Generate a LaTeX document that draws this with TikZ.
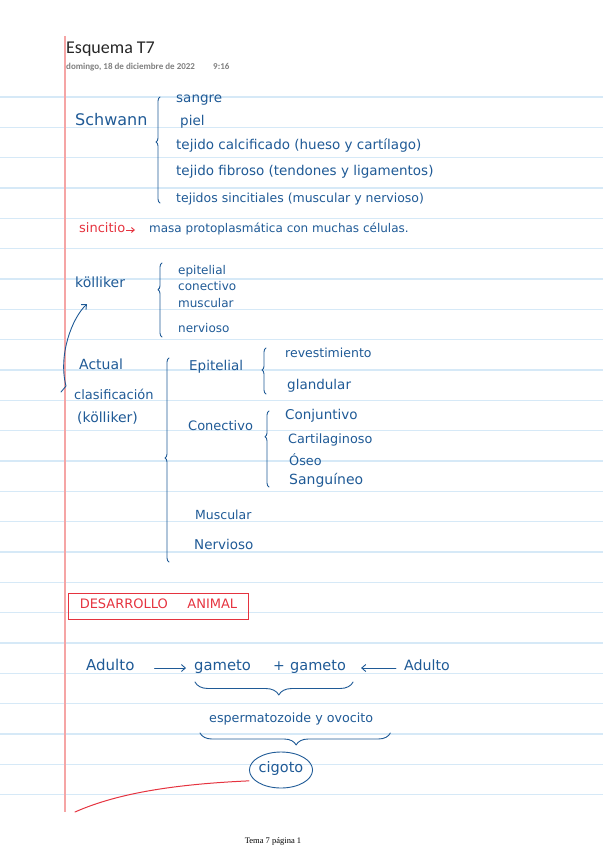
\documentclass[tikz,border=0pt]{standalone}
\usepackage{fontspec}
\setmainfont{Carlito}
\newfontfamily\handfont{DejaVu Sans}
\newfontfamily\footfont{Liberation Serif}
\usepackage{tikz}
\usetikzlibrary{arrows.meta,shapes.geometric,decorations.pathreplacing}
\definecolor{ink}{HTML}{1F5A96}
\definecolor{inkred}{HTML}{E5333F}
\definecolor{rulecol}{HTML}{D6E9F7}
\definecolor{margincol}{HTML}{F5A5A5}
\definecolor{titlegray}{HTML}{262626}
\definecolor{dategray}{HTML}{7F7F7F}

\begin{document}
\begin{tikzpicture}[x=1pt,y=-1pt,
  hand/.style={font=\handfont\fontsize{#1}{#1}\selectfont,text=ink,inner sep=0pt,anchor=west,text height=1.5ex,text depth=.25ex},
  hand/.default=13,
  inkline/.style={draw=ink,line width=0.9pt,line cap=round,line join=round},
  handbrace/.style={inkline,decorate,decoration={brace,amplitude=4pt,aspect=#1}},
  handbrace/.default=0.5,
  inkarrow/.style={inkline,-{Straight Barb[length=4pt,width=7pt]}}]
\useasboundingbox (0,0) rectangle (603,848);
\foreach \k in {0,...,23} \draw[rulecol,line width=1.2pt] (0,97+30.33*\k) -- (603,97+30.33*\k);
\draw[margincol,line width=1.5pt] (65,36) -- (65,812);
\node[anchor=base west,inner sep=0pt,text=titlegray,font=\fontsize{18}{18}\selectfont] (title) at (66,54) {Esquema T7};
\node[anchor=base west,inner sep=0pt,text=dategray,font=\bfseries\fontsize{9}{9}\selectfont] (date) at (66,70) {domingo, 18 de diciembre de 2022};
\node[anchor=base west,inner sep=0pt,text=dategray,font=\bfseries\fontsize{9}{9}\selectfont] (time) at (213,70) {9:16};
\node[font=\footfont\fontsize{8.5}{8.5}\selectfont] (foot) at (273,841) {Tema 7 página 1};

\node[hand=16] (schw) at (75,123) {Schwann};
\node[hand=13.5] (sangre) at (176,100) {sangre};
\node[hand=13.5] (piel) at (180,123) {piel};
\node[hand=13.5] (calc) at (176,147) {tejido calcificado (hueso y cartílago)};
\node[hand=13.5] (fibro) at (176,173) {tejido fibroso (tendones y ligamentos)};
\node[hand=12.5] (sincit) at (176,200) {tejidos sincitiales (muscular y nervioso)};
\draw[handbrace=0.575] ([shift={(-16,3)}]sincit.west) -- ([shift={(-16,-3)}]sangre.west);
\node[hand=13,text=inkred] (sinc) at (79,230) {sincitio};
\node[hand=12] (masa) at (149,230) {masa protoplasmática con muchas células.};
\draw[inkred,line width=0.9pt,-{Straight Barb[length=3pt,width=5pt]},shorten <=1pt,shorten >=14pt] (sinc.east) -- (masa.west);

\node[hand=14] (koll) at (75,285) {kölliker};
\node[hand=12] (lepi) at (178,272) {epitelial};
\node[hand=12] (lcon) at (178,288) {conectivo};
\node[hand=12] (lmus) at (178,305) {muscular};
\node[hand=12] (lner) at (178,330) {nervioso};
\draw[handbrace=0.64] ([shift={(-16,7)}]lner.west) -- ([shift={(-16,-9)}]lepi.west);

\node[hand=14] (actual) at (79,367) {Actual};
\node[hand=13] (clasif) at (74,397) {clasificación};
\node[hand=14] (kollb) at (77,420) {(kölliker)};
\draw[inkarrow] ([shift={(-13,-5)}]clasif.west) -- ([shift={(-8,-11)}]clasif.west) .. controls (58,355) and (72,318) .. ([shift={(12,19)}]koll.west);

\node[hand=13.5] (epit) at (189,368) {Epitelial};
\node[hand=13] (conec) at (188,428) {Conectivo};
\node[hand=12.5] (musc) at (195,517) {Muscular};
\node[hand=13.5] (nerv) at (194,547) {Nervioso};
\draw[handbrace=0.51] ([shift={(-25,15)}]nerv.west) -- ([shift={(-20,-10)}]epit.west);

\node[hand=12.5] (reves) at (285,355) {revestimiento};
\node[hand=13.5] (gland) at (287,387) {glandular};
\draw[handbrace=0.52] ([shift={(-21,7)}]gland.west) -- ([shift={(-19,-7)}]reves.west);
\node[hand=13.5] (conj) at (285,417) {Conjuntivo};
\node[hand=12.8] (cart) at (288,441) {Cartilaginoso};
\node[hand=12.8] (oseo) at (289,463) {Óseo};
\node[hand=14] (sang) at (289,482) {Sanguíneo};
\draw[handbrace=0.66] ([shift={(-20,5)}]sang.west) -- ([shift={(-16,-6)}]conj.west);

\node[hand=13,text=inkred,draw=inkred,line width=1pt,inner xsep=11pt,minimum height=26pt,anchor=center] (desa) at (158.5,606) {DESARROLLO\hspace{1.5em}ANIMAL};

\node[hand=15] (adul1) at (86,668) {Adulto};
\node[hand=14.8] (gam1) at (194,668) {gameto};
\node[hand=14] (plus) at (273,668) {+};
\node[hand=14.5] (gam2) at (290,668) {gameto};
\node[hand=14.2] (adul2) at (404,668) {Adulto};
\draw[inkarrow,shorten <=20pt,shorten >=8pt] (adul1.east) -- (gam1.west);
\draw[inkarrow,shorten <=8pt,shorten >=15pt] (adul2.west) -- (gam2.east);
\draw[inkline,decorate,decoration={brace,amplitude=13pt,aspect=0.47}] ([shift={(7,14)}]gam2.east) -- ([shift={(1,14)}]gam1.west);
\node[hand=12.7] (esper) at (209,720) {espermatozoide y ovocito};
\draw[inkline,decorate,decoration={brace,amplitude=12pt,aspect=0.495}] ([shift={(17,13)}]esper.east) -- ([shift={(-9,13)}]esper.west);
\node[hand=14.5,draw=ink,line width=0.9pt,ellipse,minimum width=62pt,minimum height=36pt,anchor=center] (cig) at (281,770) {cigoto};
\coordinate (redend) at (75,812);
\draw[inkred,line width=1pt,line cap=round] ([shift={(-5,1)}]cig.200) .. controls (180,784) and (120,792) .. (redend);
\end{tikzpicture}
\end{document}
